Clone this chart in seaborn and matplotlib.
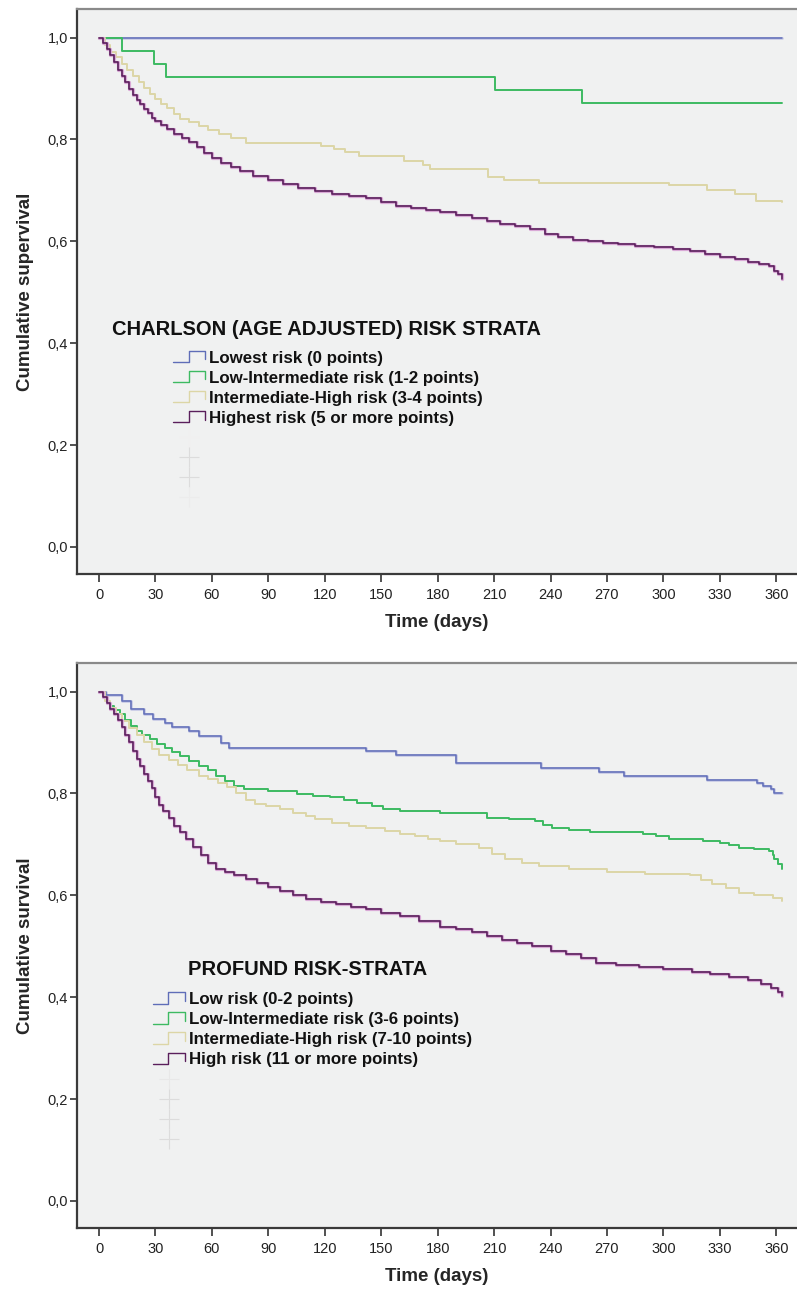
import numpy as np
import pandas as pd
import matplotlib
matplotlib.use("Agg")
import matplotlib.pyplot as plt
import matplotlib.patheffects as pe
from matplotlib.lines import Line2D
from matplotlib.legend_handler import HandlerBase
import seaborn as sns

# ---------------- DATA ----------------
x_ticks = [0, 30, 60, 90, 120, 150, 180, 210, 240, 270, 300, 330, 360]
y_ticks = [0.0, 0.2, 0.4, 0.6, 0.8, 1.0]
y_tick_labels = ["0,0", "0,2", "0,4", "0,6", "0,8", "1,0"]

# Panel 1: Charlson (age adjusted)
charlson_title = "CHARLSON (AGE ADJUSTED) RISK STRATA"
charlson_labels = ["Lowest risk (0 points)",
                   "Low-Intermediate risk (1-2 points)",
                   "Intermediate-High risk (3-4 points)",
                   "Highest risk (5 or more points)"]
ch_lowest_t = [0, 363]
ch_lowest_s = [1.0, 1.0]
ch_lowint_t = [0, 12, 29, 35.5, 210.5, 256.5, 363]
ch_lowint_s = [1.0, 0.973, 0.948, 0.922, 0.897, 0.871, 0.871]
ch_inthigh_t = [0, 3, 6, 9, 12, 15, 18, 21, 24, 27, 30, 33, 36, 40, 43, 48, 53, 58, 64, 70,
                78, 118, 125, 131, 138, 162, 172, 176, 207, 215, 234, 303, 323, 338, 349, 363]
ch_inthigh_s = [1.0, .985, .972, .961, .948, .937, .925, .913, .901, .89, .879, .87, .862, .85, .84,
                .834, .827, .819, .811, .803, .792, .787, .782, .775, .767, .757, .749, .742, .727,
                .721, .715, .71, .70, .692, .68, .677]
ch_highest_t = [0, 2, 4, 6, 8, 10, 12, 14, 16, 18, 20, 22, 24, 26, 28, 30, 33, 36, 40, 44,
                48, 52, 56, 60, 65, 70, 75, 82, 90, 98, 106, 115, 124, 133, 142, 150, 158, 166,
                174, 181, 190, 198, 206, 213, 221, 229, 237, 244, 252, 260, 268, 276, 285, 295,
                305, 314, 322, 330, 338, 345, 351, 356, 359, 361, 363]
ch_highest_s = [1.0, .99, .978, .965, .951, .937, .925, .912, .899, .888, .878, .869, .86, .852,
                .843, .837, .829, .82, .811, .803, .795, .785, .774, .764, .753, .746, .738, .729,
                .721, .713, .704, .698, .692, .688, .686, .678, .669, .665, .661, .657, .652, .646,
                .64, .634, .631, .624, .614, .608, .603, .6, .597, .594, .591, .589, .585, .581,
                .575, .57, .566, .56, .556, .551, .542, .535, .527]

# Panel 2: PROFUND
profund_title = "PROFUND RISK-STRATA"
profund_labels = ["Low risk (0-2 points)",
                  "Low-Intermediate risk (3-6 points)",
                  "Intermediate-High risk (7-10 points)",
                  "High risk (11 or more points)"]
pr_low_t = [0, 3.5, 12, 17, 24, 28.6, 35, 39, 48, 53, 65, 69, 142, 158, 190, 235, 266, 279,
            323, 350, 353, 357, 359, 363]
pr_low_s = [1.0, 0.994, 0.981, 0.965, 0.955, 0.947, 0.939, 0.931, 0.922, 0.912, 0.899, 0.889,
            0.883, 0.875, 0.859, 0.850, 0.843, 0.834, 0.827, 0.820, 0.814, 0.808, 0.801, 0.801]
pr_lowint_t = [0, 2, 4, 6, 8, 11, 14, 17, 20, 23, 27, 31, 35, 39, 43, 48, 53, 58, 62, 67,
               72, 77, 90, 105, 114, 123, 130, 137, 145, 151, 160, 181, 206, 218, 232, 236, 241,
               250, 261, 289, 296, 303, 321, 330, 335, 340, 348, 356, 358, 359, 361, 363]
pr_lowint_s = [1.0, .99, .98, .972, .963, .955, .944, .933, .923, .914, .906, .897, .89, .881,
               .873, .864, .854, .845, .834, .824, .815, .808, .804, .798, .795, .792, .787, .782,
               .775, .769, .766, .762, .752, .749, .745, .739, .733, .728, .724, .721, .716, .711,
               .707, .702, .698, .693, .69, .687, .679, .671, .661, .651]
pr_inthigh_t = [0, 3, 6, 9, 12, 16, 20, 24, 28, 32, 37, 42, 47, 53, 58, 63, 68, 73, 78, 83,
                89, 96, 103, 110, 115, 124, 133, 142, 152, 160, 168, 175, 181, 190, 202, 209,
                216, 225, 234, 250, 270, 290, 314, 320, 326, 333, 340, 348, 358, 363]
pr_inthigh_s = [1.0, .982, .967, .955, .942, .928, .914, .9, .888, .875, .866, .855, .845, .834,
                .828, .82, .813, .8, .788, .78, .775, .769, .762, .755, .749, .742, .736, .732,
                .726, .72, .716, .71, .706, .701, .693, .682, .671, .664, .658, .652, .645, .642,
                .639, .63, .622, .614, .605, .6, .595, .589]
pr_high_t = [0, 2, 4, 6, 8, 10, 12, 14, 16, 18, 20, 22, 24, 26, 28, 30, 32, 34, 37, 40,
             43, 46, 50, 54, 58, 62, 67, 72, 78, 84, 90, 96, 103, 110, 118, 126, 134, 142, 150,
             160, 170, 181, 190, 198, 206, 214, 222, 230, 240, 248, 256, 264, 275, 287, 300,
             315, 325, 335, 345, 352, 357, 361, 363]
pr_high_s = [1.0, .99, .978, .966, .955, .945, .93, .915, .9, .884, .868, .853, .839, .825, .81,
             .792, .778, .765, .752, .737, .724, .71, .694, .679, .664, .652, .645, .64, .633,
             .624, .617, .609, .6, .593, .587, .582, .578, .573, .566, .559, .549, .537, .533,
             .528, .52, .512, .507, .5, .491, .484, .476, .467, .463, .46, .455, .449, .445, .44,
             .434, .426, .419, .41, .403]

# ---------------- STYLE ----------------
colors = ["#5f6db8", "#3dba62", "#dcd6a6", "#5a1f5c"]
censor_colors_top = ["#f0f0f0", "#dcdcdc", "#dcdcdc", "#ececec"]
censor_colors_bottom = ["#e8e8e8", "#dcdcdc", "#dcdcdc", "#dcdcdc"]

sns.set_style("white")
plt.rcParams["font.family"] = ["Liberation Sans", "DejaVu Sans"]


def long_frame(times, survs, labels):
    frames = []
    for t, s, lab in zip(times, survs, labels):
        assert len(t) == len(s), lab
        frames.append(pd.DataFrame({"time": t, "survival": s, "group": lab}))
    return pd.concat(frames, ignore_index=True)


class StepHandler(HandlerBase):
    def create_artists(self, legend, orig_handle, xdescent, ydescent, width, height,
                       fontsize, trans):
        xs = np.array([0.0, 0.48, 0.48, 0.97, 0.97]) * width - xdescent
        ys = np.array([0.05, 0.05, 1.0, 1.0, 0.3]) * height - ydescent
        ln = Line2D(xs, ys, color=orig_handle.get_color(), lw=1.0)
        ln.set_transform(trans)
        return [ln]


def draw_panel(ax, df, labels, title, ylabel, title_xy, legend_xy, censor_colors):
    ax.set_facecolor("#f0f1f1")
    sns.lineplot(data=df, x="time", y="survival", hue="group", hue_order=labels,
                 palette=colors, estimator=None, errorbar=None, legend=False,
                 drawstyle="steps-post", linewidth=1.4, ax=ax)
    for ln, c in zip(ax.get_lines(), colors):
        if c == colors[3]:
            ln.set_path_effects([pe.Stroke(linewidth=2.3, foreground="#d9a9d6"), pe.Normal()])
            ln.set_linewidth(1.2)
        elif c == colors[0]:
            ln.set_path_effects([pe.Stroke(linewidth=2.0, foreground="#c9cbe6"), pe.Normal()])
            ln.set_linewidth(1.1)
    ax.set_xlim(-11.7, 371)
    ax.set_ylim(-0.053, 1.056)
    ax.set_xticks(x_ticks)
    ax.set_xticklabels([str(v) for v in x_ticks])
    ax.set_yticks(y_ticks)
    ax.set_yticklabels(y_tick_labels)
    ax.tick_params(axis="x", length=6, width=1.2, color="#333333", pad=4,
                   labelsize=10.5, labelcolor="#222222", direction="out", bottom=True)
    ax.tick_params(axis="y", length=5, width=1.2, color="#333333", pad=1.5,
                   labelsize=10.5, labelcolor="#222222", direction="out", left=True)
    for side in ["left", "bottom"]:
        ax.spines[side].set_color("#3a3a3a")
        ax.spines[side].set_linewidth(1.6)
    ax.spines["top"].set_color("#8a8a8a")
    ax.spines["top"].set_linewidth(1.6)
    ax.spines["right"].set_visible(False)
    ax.set_xlabel("Time (days)", fontsize=13.5, fontweight="bold", labelpad=9)
    ax.set_ylabel(ylabel, fontsize=13.5, fontweight="bold", labelpad=10)

    ax.text(title_xy[0], title_xy[1], title, transform=ax.transAxes, fontsize=14.5,
            fontweight="bold", va="center", ha="left", color="#111111")

    handles = [Line2D([], [], color=c, lw=1.0) for c in colors]
    handles += [Line2D([], [], color=c, marker="+", markersize=14, markeredgewidth=0.8,
                       linestyle="none") for c in censor_colors]
    hmap = {h: StepHandler() for h in handles[:4]}
    leg = ax.legend(handles, labels + [""] * 4, loc="upper left",
                    bbox_to_anchor=legend_xy, bbox_transform=ax.transAxes,
                    frameon=False, borderpad=0, borderaxespad=0,
                    handlelength=1.95, handletextpad=0.18, labelspacing=0.3,
                    prop={"size": 12.2, "weight": "bold"}, handler_map=hmap)
    for t in leg.get_texts():
        t.set_color("#111111")


fig = plt.figure(figsize=(7.97, 12.89), dpi=100)
fig.patch.set_facecolor("white")

W, H = 797.0, 1289.0
ax1 = fig.add_axes([77 / W, (H - 574) / H, 1 - 77 / W, 565 / H])
ax2 = fig.add_axes([77 / W, (H - 1228) / H, 1 - 77 / W, 565 / H])

df1 = long_frame([ch_lowest_t, ch_lowint_t, ch_inthigh_t, ch_highest_t],
                 [ch_lowest_s, ch_lowint_s, ch_inthigh_s, ch_highest_s], charlson_labels)
df2 = long_frame([pr_low_t, pr_lowint_t, pr_inthigh_t, pr_high_t],
                 [pr_low_s, pr_lowint_s, pr_inthigh_s, pr_high_s], profund_labels)

draw_panel(ax1, df1, charlson_labels, charlson_title, "Cumulative supervival",
           (0.049, 0.432), (0.133, 0.395), censor_colors_top)
draw_panel(ax2, df2, profund_labels, profund_title, "Cumulative survival",
           (0.154, 0.457), (0.105, 0.4175), censor_colors_bottom)

fig.savefig("out.png", dpi=100, facecolor="white")
